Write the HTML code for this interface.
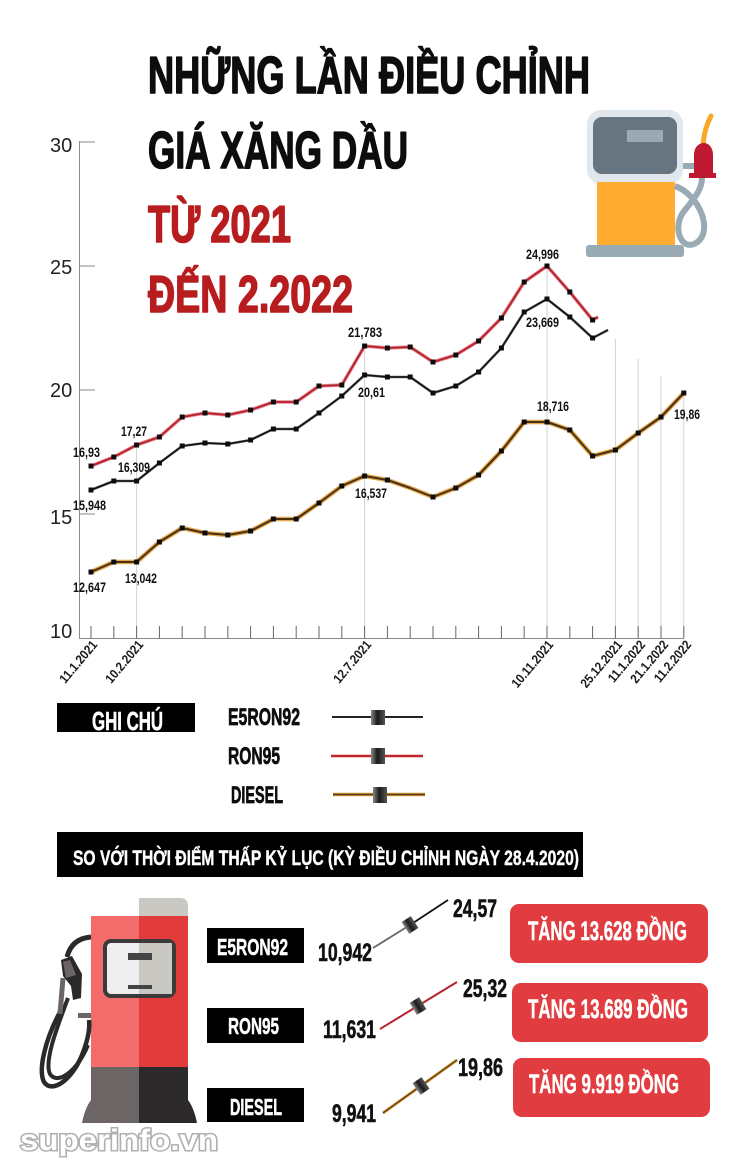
<!DOCTYPE html>
<html><head><meta charset="utf-8"><style>
html,body{margin:0;padding:0;background:#fff;}
svg{display:block;}
text{font-family:"Liberation Sans","DejaVu Sans",sans-serif;}
</style></head><body>
<svg width="750" height="1170" viewBox="0 0 750 1170" xmlns="http://www.w3.org/2000/svg">
<defs>
<linearGradient id="mk" x1="0" y1="0" x2="1" y2="0">
<stop offset="0" stop-color="#888"/><stop offset="0.45" stop-color="#1a1a1a"/><stop offset="1" stop-color="#555"/>
</linearGradient>
</defs>
<rect width="750" height="1170" fill="#fff"/>

<!-- Title -->
<g font-weight="bold" stroke-width="1.6" stroke-linejoin="round">
<text x="148" y="93" font-size="52" fill="#0d0d0d" stroke="#0d0d0d" textLength="442" lengthAdjust="spacingAndGlyphs">NHỮNG LẦN ĐIỀU CHỈNH</text>
<text x="148" y="168" font-size="52" fill="#0d0d0d" stroke="#0d0d0d" textLength="260" lengthAdjust="spacingAndGlyphs">GIÁ XĂNG DẦU</text>
<text x="148" y="242" font-size="52" fill="#b71c1f" stroke="#b71c1f" textLength="143" lengthAdjust="spacingAndGlyphs">TỪ 2021</text>
<text x="148" y="312" font-size="52" fill="#b71c1f" stroke="#b71c1f" textLength="205" lengthAdjust="spacingAndGlyphs">ĐẾN 2.2022</text>
</g>

<!-- Top pump icon -->
<g>
<rect x="587" y="110" width="96" height="74" rx="14" fill="#e1e8ed"/>
<rect x="593" y="117" width="84" height="57" rx="9" fill="#66757f"/>
<rect x="627" y="130" width="36" height="12" fill="#99aab5"/>
<rect x="597" y="182" width="78" height="64" fill="#ffac33"/>
<rect x="586" y="245" width="98" height="12" rx="3" fill="#99aab5"/>
<path d="M675,186 C700,195 714,232 696,243 C681,252 671,226 685,210 C693,200 702,190 702,178" stroke="#99aab5" stroke-width="6" fill="none"/>
<rect x="683" y="163" width="18" height="6" fill="#99aab5"/>
<path d="M703,146 C704,132 707,124 711,116" stroke="#f7a829" stroke-width="5" stroke-linecap="round" fill="none"/>
<path d="M694,177 L694,155 C694,147 699,143 704,143 C709,143 713,148 713,155 L713,177 Z" fill="#be1931"/>
<rect x="689" y="173" width="27" height="5" fill="#be1931"/>
</g>

<!-- Axes -->
<g stroke="#8a8a8a" stroke-width="1">
<line x1="79.5" y1="141" x2="79.5" y2="638"/>
<line x1="79" y1="638.5" x2="684" y2="638.5"/>
<line x1="79" y1="142" x2="95" y2="142"/>
<line x1="79" y1="266" x2="95" y2="266"/>
<line x1="79" y1="390" x2="95" y2="390"/>
<line x1="79" y1="514" x2="95" y2="514"/>
</g>
<g font-size="20" fill="#222">
<text x="50" y="152">30</text>
<text x="50" y="274">25</text>
<text x="50" y="397">20</text>
<text x="50" y="524">15</text>
<text x="50" y="638">10</text>
</g>

<!-- vertical gridlines -->
<g stroke="#d2d2d2" stroke-width="1">
<line x1="136.6" y1="445" x2="136.6" y2="638"/>
<line x1="364.6" y1="346" x2="364.6" y2="638"/>
<line x1="547" y1="266" x2="547" y2="638"/>
<line x1="615.4" y1="339" x2="615.4" y2="638"/>
<line x1="638.2" y1="359" x2="638.2" y2="638"/>
<line x1="661" y1="376" x2="661" y2="638"/>
<line x1="683.8" y1="393" x2="683.8" y2="638"/>
</g>
<!-- x ticks -->
<g stroke="#666" stroke-width="1">
<line x1="91" y1="626" x2="91" y2="638"/><line x1="113.8" y1="626" x2="113.8" y2="638"/><line x1="136.6" y1="626" x2="136.6" y2="638"/><line x1="159.4" y1="626" x2="159.4" y2="638"/><line x1="182.2" y1="626" x2="182.2" y2="638"/><line x1="205" y1="626" x2="205" y2="638"/><line x1="227.8" y1="626" x2="227.8" y2="638"/><line x1="250.6" y1="626" x2="250.6" y2="638"/><line x1="273.4" y1="626" x2="273.4" y2="638"/><line x1="296.2" y1="626" x2="296.2" y2="638"/><line x1="319" y1="626" x2="319" y2="638"/><line x1="341.8" y1="626" x2="341.8" y2="638"/><line x1="364.6" y1="626" x2="364.6" y2="638"/><line x1="387.4" y1="626" x2="387.4" y2="638"/><line x1="410.2" y1="626" x2="410.2" y2="638"/><line x1="433" y1="626" x2="433" y2="638"/><line x1="455.8" y1="626" x2="455.8" y2="638"/><line x1="478.6" y1="626" x2="478.6" y2="638"/><line x1="501.4" y1="626" x2="501.4" y2="638"/><line x1="524.2" y1="626" x2="524.2" y2="638"/><line x1="547" y1="626" x2="547" y2="638"/><line x1="569.8" y1="626" x2="569.8" y2="638"/><line x1="592.6" y1="626" x2="592.6" y2="638"/><line x1="615.4" y1="626" x2="615.4" y2="638"/><line x1="638.2" y1="626" x2="638.2" y2="638"/><line x1="661" y1="626" x2="661" y2="638"/><line x1="683.8" y1="626" x2="683.8" y2="638"/>
</g>
<!-- x labels -->
<g font-size="13" font-weight="bold" fill="#1a1a1a">
<text transform="translate(98,645) rotate(-50)" x="-51" textLength="51" lengthAdjust="spacingAndGlyphs">11.1.2021</text>
<text transform="translate(144,645) rotate(-50)" x="-51" textLength="51" lengthAdjust="spacingAndGlyphs">10.2.2021</text>
<text transform="translate(372,645) rotate(-50)" x="-51" textLength="51" lengthAdjust="spacingAndGlyphs">12.7.2021</text>
<text transform="translate(554,645) rotate(-50)" x="-57" textLength="57" lengthAdjust="spacingAndGlyphs">10.11.2021</text>
<text transform="translate(623,645) rotate(-50)" x="-57" textLength="57" lengthAdjust="spacingAndGlyphs">25.12.2021</text>
<text transform="translate(646,645) rotate(-50)" x="-50" textLength="50" lengthAdjust="spacingAndGlyphs">11.1.2022</text>
<text transform="translate(669,645) rotate(-50)" x="-51" textLength="51" lengthAdjust="spacingAndGlyphs">21.1.2022</text>
<text transform="translate(692,645) rotate(-50)" x="-50" textLength="50" lengthAdjust="spacingAndGlyphs">11.2.2022</text>
</g>

<!-- Series: RON95 (red) -->
<g fill="none" stroke-linejoin="round">
<polyline stroke="#e58690" stroke-width="3.6" points="91,466 113.8,457 136.6,445 159.4,437 182.2,417 205,413 227.8,415 250.6,410 273.4,402 296.2,402 319,386 341.8,385 364.6,346 387.4,348 410.2,347 433,362 455.8,355 478.6,341 501.4,318 524.2,282 547,266 569.8,292 592.6,320 598,317"/>
<polyline stroke="#b5202b" stroke-width="1.8" points="91,466 113.8,457 136.6,445 159.4,437 182.2,417 205,413 227.8,415 250.6,410 273.4,402 296.2,402 319,386 341.8,385 364.6,346 387.4,348 410.2,347 433,362 455.8,355 478.6,341 501.4,318 524.2,282 547,266 569.8,292 592.6,320 598,317"/>
<!-- E5RON92 (black) -->
<polyline stroke="#666" stroke-width="2.6" points="91,490 113.8,481 136.6,481 159.4,463 182.2,446 205,443 227.8,444 250.6,440 273.4,429 296.2,429 319,413 341.8,396 364.6,375 387.4,377 410.2,377 433,393 455.8,386 478.6,372 501.4,348 524.2,312 547,299 569.8,317 592.6,338 608,330"/>
<polyline stroke="#111" stroke-width="1.5" points="91,490 113.8,481 136.6,481 159.4,463 182.2,446 205,443 227.8,444 250.6,440 273.4,429 296.2,429 319,413 341.8,396 364.6,375 387.4,377 410.2,377 433,393 455.8,386 478.6,372 501.4,348 524.2,312 547,299 569.8,317 592.6,338 608,330"/>
<!-- DIESEL -->
<polyline stroke="#e3a94e" stroke-width="4.6" points="91,572 113.8,562 136.6,562 159.4,542 182.2,528 205,533 227.8,535 250.6,531 273.4,519 296.2,519 319,503 341.8,486 364.6,476 387.4,480 410.2,488 433,497 455.8,488 478.6,475 501.4,451 524.2,422 547,422 569.8,430 592.6,456 615.4,450 638.2,433 661,417 683.8,393"/>
<polyline stroke="#4a3012" stroke-width="2" points="91,572 113.8,562 136.6,562 159.4,542 182.2,528 205,533 227.8,535 250.6,531 273.4,519 296.2,519 319,503 341.8,486 364.6,476 387.4,480 410.2,488 433,497 455.8,488 478.6,475 501.4,451 524.2,422 547,422 569.8,430 592.6,456 615.4,450 638.2,433 661,417 683.8,393"/>
</g>
<!-- markers -->
<g fill="#0d0d0d">
<rect x="88.5" y="463.5" width="5" height="5"/><rect x="111.3" y="454.5" width="5" height="5"/><rect x="134.1" y="442.5" width="5" height="5"/><rect x="156.9" y="434.5" width="5" height="5"/><rect x="179.7" y="414.5" width="5" height="5"/><rect x="202.5" y="410.5" width="5" height="5"/><rect x="225.3" y="412.5" width="5" height="5"/><rect x="248.1" y="407.5" width="5" height="5"/><rect x="270.9" y="399.5" width="5" height="5"/><rect x="293.7" y="399.5" width="5" height="5"/><rect x="316.5" y="383.5" width="5" height="5"/><rect x="339.3" y="382.5" width="5" height="5"/><rect x="362.1" y="343.5" width="5" height="5"/><rect x="384.9" y="345.5" width="5" height="5"/><rect x="407.7" y="344.5" width="5" height="5"/><rect x="430.5" y="359.5" width="5" height="5"/><rect x="453.3" y="352.5" width="5" height="5"/><rect x="476.1" y="338.5" width="5" height="5"/><rect x="498.9" y="315.5" width="5" height="5"/><rect x="521.7" y="279.5" width="5" height="5"/><rect x="544.5" y="263.5" width="5" height="5"/><rect x="567.3" y="289.5" width="5" height="5"/><rect x="590.1" y="317.5" width="5" height="5"/>

<rect x="88.5" y="487.5" width="5" height="5"/><rect x="111.3" y="478.5" width="5" height="5"/><rect x="134.1" y="478.5" width="5" height="5"/><rect x="156.9" y="460.5" width="5" height="5"/><rect x="179.7" y="443.5" width="5" height="5"/><rect x="202.5" y="440.5" width="5" height="5"/><rect x="225.3" y="441.5" width="5" height="5"/><rect x="248.1" y="437.5" width="5" height="5"/><rect x="270.9" y="426.5" width="5" height="5"/><rect x="293.7" y="426.5" width="5" height="5"/><rect x="316.5" y="410.5" width="5" height="5"/><rect x="339.3" y="393.5" width="5" height="5"/><rect x="362.1" y="372.5" width="5" height="5"/><rect x="384.9" y="374.5" width="5" height="5"/><rect x="407.7" y="374.5" width="5" height="5"/><rect x="430.5" y="390.5" width="5" height="5"/><rect x="453.3" y="383.5" width="5" height="5"/><rect x="476.1" y="369.5" width="5" height="5"/><rect x="498.9" y="345.5" width="5" height="5"/><rect x="521.7" y="309.5" width="5" height="5"/><rect x="544.5" y="296.5" width="5" height="5"/><rect x="567.3" y="314.5" width="5" height="5"/><rect x="590.1" y="335.5" width="5" height="5"/>

<rect x="88.5" y="569.5" width="5" height="5"/><rect x="111.3" y="559.5" width="5" height="5"/><rect x="134.1" y="559.5" width="5" height="5"/><rect x="156.9" y="539.5" width="5" height="5"/><rect x="179.7" y="525.5" width="5" height="5"/><rect x="202.5" y="530.5" width="5" height="5"/><rect x="225.3" y="532.5" width="5" height="5"/><rect x="248.1" y="528.5" width="5" height="5"/><rect x="270.9" y="516.5" width="5" height="5"/><rect x="293.7" y="516.5" width="5" height="5"/><rect x="316.5" y="500.5" width="5" height="5"/><rect x="339.3" y="483.5" width="5" height="5"/><rect x="362.1" y="473.5" width="5" height="5"/><rect x="384.9" y="477.5" width="5" height="5"/><rect x="430.5" y="494.5" width="5" height="5"/><rect x="453.3" y="485.5" width="5" height="5"/><rect x="476.1" y="472.5" width="5" height="5"/><rect x="498.9" y="448.5" width="5" height="5"/><rect x="521.7" y="419.5" width="5" height="5"/><rect x="544.5" y="419.5" width="5" height="5"/><rect x="567.3" y="427.5" width="5" height="5"/><rect x="590.1" y="453.5" width="5" height="5"/><rect x="612.9" y="447.5" width="5" height="5"/><rect x="635.7" y="430.5" width="5" height="5"/><rect x="658.5" y="414.5" width="5" height="5"/><rect x="681.3" y="390.5" width="5" height="5"/>
</g>

<!-- data labels -->
<g font-size="14" font-weight="bold" fill="#111">
<text x="73" y="457" textLength="27" lengthAdjust="spacingAndGlyphs">16,93</text>
<text x="121" y="436" textLength="26" lengthAdjust="spacingAndGlyphs">17,27</text>
<text x="118" y="472" textLength="32" lengthAdjust="spacingAndGlyphs">16,309</text>
<text x="73" y="510" textLength="33" lengthAdjust="spacingAndGlyphs">15,948</text>
<text x="73" y="592" textLength="33" lengthAdjust="spacingAndGlyphs">12,647</text>
<text x="125" y="583" textLength="32" lengthAdjust="spacingAndGlyphs">13,042</text>
<text x="348" y="337" textLength="34" lengthAdjust="spacingAndGlyphs">21,783</text>
<text x="358" y="397" textLength="27" lengthAdjust="spacingAndGlyphs">20,61</text>
<text x="355" y="498" textLength="32" lengthAdjust="spacingAndGlyphs">16,537</text>
<text x="526" y="259" textLength="33" lengthAdjust="spacingAndGlyphs">24,996</text>
<text x="526" y="327" textLength="33" lengthAdjust="spacingAndGlyphs">23,669</text>
<text x="537" y="411" textLength="32" lengthAdjust="spacingAndGlyphs">18,716</text>
<text x="674" y="419" textLength="26" lengthAdjust="spacingAndGlyphs">19,86</text>
</g>

<!-- Legend -->
<rect x="57" y="703" width="138" height="29" fill="#000"/>
<text x="92" y="730" font-size="26" font-weight="bold" fill="#fff" stroke="#fff" stroke-width="0.6" textLength="71" lengthAdjust="spacingAndGlyphs">GHI CHÚ</text>
<g font-size="24" font-weight="bold" fill="#0d0d0d" stroke="#0d0d0d" stroke-width="0.7">
<text x="228" y="725" textLength="72" lengthAdjust="spacingAndGlyphs">E5RON92</text>
<text x="228" y="764" textLength="52" lengthAdjust="spacingAndGlyphs">RON95</text>
<text x="231" y="803" textLength="52" lengthAdjust="spacingAndGlyphs">DIESEL</text>
</g>
<line x1="332" y1="717" x2="423" y2="717" stroke="#222" stroke-width="2"/>
<rect x="371" y="710" width="14" height="15" fill="url(#mk)"/>
<line x1="331" y1="756" x2="423" y2="756" stroke="#c0272d" stroke-width="2.5"/>
<rect x="371" y="748" width="14" height="16" fill="url(#mk)"/>
<line x1="333" y1="794.5" x2="425" y2="794.5" stroke="#d59a3c" stroke-width="3.5"/>
<line x1="333" y1="794.5" x2="425" y2="794.5" stroke="#5a3a14" stroke-width="1.5"/>
<rect x="373" y="787" width="14" height="16" fill="url(#mk)"/>

<!-- Bottom banner -->
<rect x="57" y="832" width="526" height="45" fill="#000"/>
<text x="73" y="865" font-size="21" font-weight="bold" fill="#fff" stroke="#fff" stroke-width="0.4" textLength="506" lengthAdjust="spacingAndGlyphs">SO VỚI THỜI ĐIỂM THẤP KỶ LỤC (KỲ ĐIỀU CHỈNH NGÀY 28.4.2020)</text>

<!-- Bottom pump -->
<g>
<path d="M139,898 H180 Q188,898 188,906 V917 H139 Z" fill="#c9c8c3"/>
<rect x="91" y="916" width="48" height="152" fill="#f36b6b"/>
<rect x="139" y="916" width="49" height="152" fill="#e23b3b"/>
<path d="M91,1067 H139 V1123 H82 Q85,1108 91,1100 Z" fill="#6b6565"/>
<path d="M139,1067 H188 V1100 Q194,1108 197,1123 H139 Z" fill="#2c292a"/>
<rect x="105" y="941" width="69" height="55" rx="6" fill="#eeeeee" stroke="#3a3a3a" stroke-width="4"/>
<rect x="139" y="943" width="33" height="51" fill="#c9c8c3"/>
<rect x="128" y="953" width="24" height="7" fill="#444"/>
<rect x="128" y="985" width="24" height="4" fill="#444"/>
<path d="M91,937 C78,938 70,945 67,957" stroke="#2a2a2a" stroke-width="5" fill="none"/>
<path d="M60,1012 C45,1040 38,1070 44,1082 C52,1094 72,1080 82,1055 C88,1040 90,1028 89,1020" stroke="#2a2a2a" stroke-width="4.5" fill="none"/>
<path d="M68,998 C56,1030 44,1062 50,1074 C58,1086 78,1070 88,1045" stroke="#2a2a2a" stroke-width="4" fill="none"/>
<path d="M61,960 L72,956 L82,974 L81,998 L73,1000 L71,986 L63,976 Z" fill="#2a2a2a"/>
<path d="M63,962 L70,960 L76,975 L66,978 Z" fill="#6b6565"/>
<line x1="63" y1="978" x2="60" y2="1014" stroke="#6b6565" stroke-width="5"/>
<rect x="78" y="1013" width="13" height="5" fill="#6b6565"/>
</g>

<!-- Bottom labels -->
<rect x="207" y="928" width="97" height="35" fill="#000"/>
<rect x="207" y="1008" width="97" height="35" fill="#000"/>
<rect x="207" y="1088" width="97" height="34" fill="#000"/>
<g font-size="23" font-weight="bold" fill="#fff" stroke="#fff" stroke-width="0.5">
<text x="217" y="955" textLength="71" lengthAdjust="spacingAndGlyphs">E5RON92</text>
<text x="228" y="1034" textLength="51" lengthAdjust="spacingAndGlyphs">RON95</text>
<text x="230" y="1115" textLength="52" lengthAdjust="spacingAndGlyphs">DIESEL</text>
</g>
<g font-size="25" font-weight="bold" fill="#111" stroke="#111" stroke-width="0.6">
<text x="318" y="961" textLength="54" lengthAdjust="spacingAndGlyphs">10,942</text>
<text x="453" y="917" textLength="44" lengthAdjust="spacingAndGlyphs">24,57</text>
<text x="323" y="1038" textLength="53" lengthAdjust="spacingAndGlyphs">11,631</text>
<text x="463" y="997" textLength="44" lengthAdjust="spacingAndGlyphs">25,32</text>
<text x="332" y="1122" textLength="44" lengthAdjust="spacingAndGlyphs">9,941</text>
<text x="458" y="1076" textLength="45" lengthAdjust="spacingAndGlyphs">19,86</text>
</g>
<line x1="373" y1="948" x2="410" y2="925" stroke="#666" stroke-width="1.8"/>
<line x1="410" y1="925" x2="448" y2="900" stroke="#111" stroke-width="1.8"/>
<rect x="-5.5" y="-7" width="11" height="14" fill="url(#mk)" transform="translate(410,925) rotate(-33)"/>
<line x1="380" y1="1029" x2="457" y2="982" stroke="#b5202b" stroke-width="2"/>
<rect x="-5.5" y="-7" width="11" height="14" fill="url(#mk)" transform="translate(418,1006) rotate(-31)"/>
<line x1="383" y1="1113" x2="457" y2="1060" stroke="#d59a3c" stroke-width="3"/>
<line x1="383" y1="1113" x2="457" y2="1060" stroke="#5a3a14" stroke-width="1.2"/>
<rect x="-5.5" y="-7" width="11" height="14" fill="url(#mk)" transform="translate(421,1086) rotate(-35)"/>

<!-- Red boxes -->
<rect x="510" y="904" width="198" height="59" rx="9" fill="#e13c3f"/>
<rect x="512" y="983" width="196" height="59" rx="9" fill="#e13c3f"/>
<rect x="513" y="1058" width="197" height="59" rx="9" fill="#e13c3f"/>
<g font-size="27" font-weight="bold" fill="#fff" stroke="#fff" stroke-width="0.5">
<text x="528" y="940" textLength="159" lengthAdjust="spacingAndGlyphs">TĂNG 13.628 ĐỒNG</text>
<text x="528" y="1018" textLength="160" lengthAdjust="spacingAndGlyphs">TĂNG 13.689 ĐỒNG</text>
<text x="529" y="1093" textLength="150" lengthAdjust="spacingAndGlyphs">TĂNG 9.919 ĐỒNG</text>
</g>

<!-- watermark -->
<text x="20" y="1150" font-size="30" font-weight="bold" fill="#fff" stroke="#b0b0b0" stroke-width="3" paint-order="stroke" textLength="198" lengthAdjust="spacingAndGlyphs">superinfo.vn</text>
</svg>
</body></html>
